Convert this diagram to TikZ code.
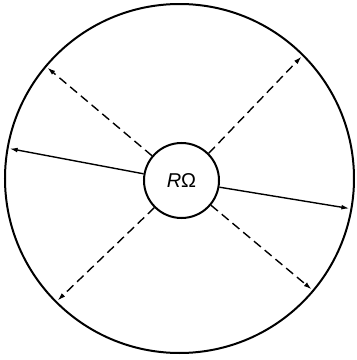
\documentclass[tikz,border=0pt]{standalone}
\usepackage{fontspec}
\usepackage{tikz}
\usetikzlibrary{arrows.meta, positioning}
\newfontfamily\labelfont{Liberation Sans}

\begin{document}
\begin{tikzpicture}[>={Latex[length=4pt,width=2.4pt]}, x=0.5pt, y=0.5pt]
    \useasboundingbox (0,0) rectangle (357,360);
    % Vỏ ngoài và điện trở ở giữa
    \node[circle, draw, line width=1pt, inner sep=0pt, minimum size=174.5pt] (wall) at (179.5,181.5) {};
    \node[circle, draw, line width=1pt, inner sep=0pt, minimum size=37.5pt, font=\labelfont\fontsize{10}{12}\selectfont] (res) at (181.5,179.5) {\textit{R}Ω};
    
    % Các mũi tên liền
    \draw[->, line width=0.7pt, shorten >=1.5pt] (res.170) -- (wall.170);
    \draw[->, line width=0.7pt, shorten >=1.5pt] (res.-10) -- (wall.-10);
    
    % Các mũi tên nét đứt
    \foreach \a in {140, 45, 225, -40}
        \draw[->, line width=0.7pt, dash pattern=on 4.5pt off 2.5pt, shorten >=1.5pt] (res.\a) -- (wall.\a);
\end{tikzpicture}
\end{document}
